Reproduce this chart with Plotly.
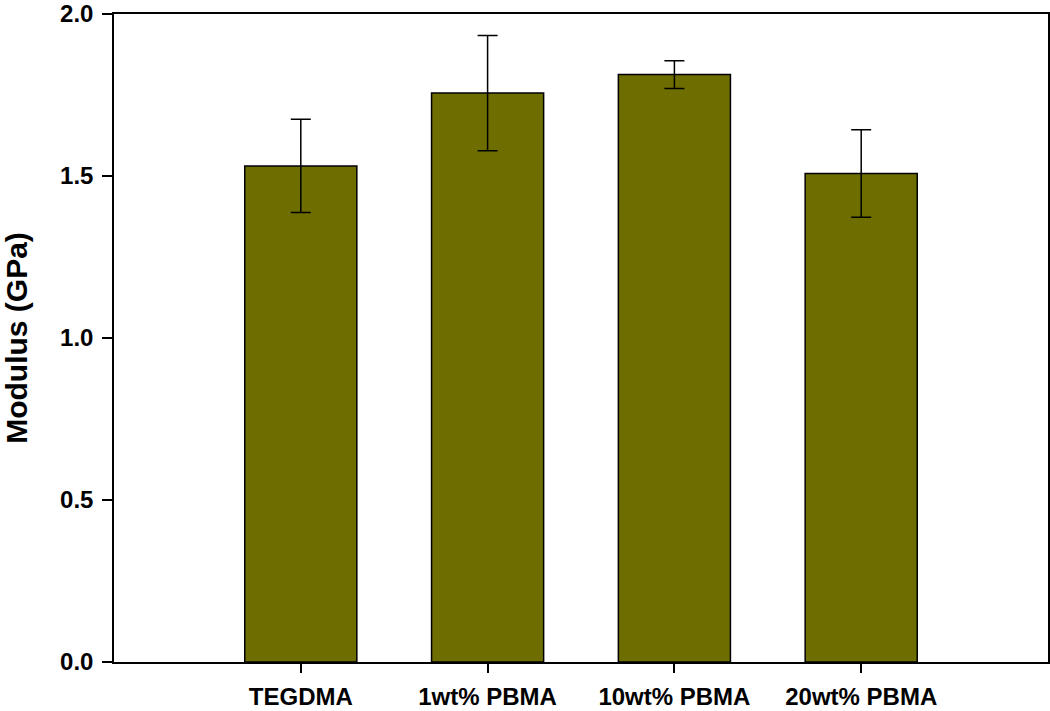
import plotly.graph_objects as go

categories = ["TEGDMA", "1wt% PBMA", "10wt% PBMA", "20wt% PBMA"]
modulus = [1.531, 1.756, 1.813, 1.508]
errors = [0.144, 0.178, 0.043, 0.135]
y_ticks = [0.0, 0.5, 1.0, 1.5, 2.0]
y_tick_labels = ["0.0", "0.5", "1.0", "1.5", "2.0"]

positions = list(range(len(categories)))

fig = go.Figure()
fig.add_trace(go.Bar(
    x=positions, y=modulus, width=0.6,
    marker=dict(color="#6e6e00", line=dict(color="black", width=1.5)),
    error_y=dict(type="data", array=errors, visible=True, color="black", thickness=1.5, width=10),
))

font_family = "Liberation Sans, Arial, sans-serif"
fig.update_layout(
    width=1050, height=711,
    margin=dict(l=114, r=2, t=14, b=49, autoexpand=False),
    paper_bgcolor="white", plot_bgcolor="white",
    showlegend=False,
    font=dict(family=font_family, color="black"),
    xaxis=dict(
        range=[-1, 4], tickvals=positions,
        ticktext=["<b>%s</b>" % c for c in categories],
        ticks="outside", ticklen=9, tickwidth=1.5, tickcolor="black",
        showline=True, linecolor="black", linewidth=1.5, mirror=True,
        showgrid=False, zeroline=False, automargin=False,
        tickfont=dict(size=24, family=font_family),
        ticklabelstandoff=3, ticklabeloverflow="allow",
    ),
    yaxis=dict(
        range=[0, 2.0], tickvals=y_ticks,
        ticktext=["<b>%s</b>" % t for t in y_tick_labels],
        ticks="outside", ticklen=10, tickwidth=1.5, tickcolor="black",
        showline=True, linecolor="black", linewidth=1.5, mirror=True,
        showgrid=False, zeroline=False, automargin=False,
        tickfont=dict(size=24, family=font_family),
        ticklabelstandoff=4, ticklabeloverflow="allow",
        title=dict(text="<b>Modulus (GPa)</b>", font=dict(size=30, family=font_family), standoff=34),
    ),
)

fig.write_html(
    "out.html",
    config={"displayModeBar": False},
    post_script="document.body.style.margin='0';document.body.style.overflow='hidden';",
)
